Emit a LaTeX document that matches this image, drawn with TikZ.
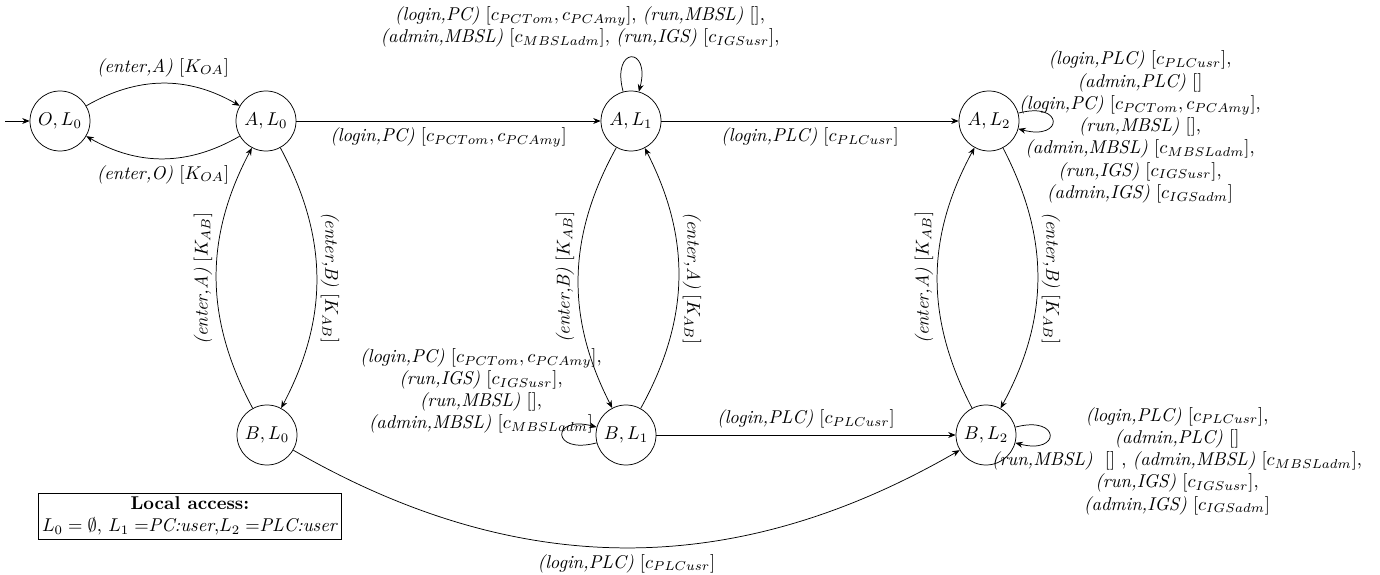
\documentclass[tikz,border=0pt]{standalone}
\usetikzlibrary{arrows.meta}
\begin{document}
\begin{tikzpicture}[x=0.54pt,y=0.54pt,
  >={Stealth[length=4pt,width=3.2pt]},
  st/.style={circle,draw,minimum size=32.4pt,inner sep=0pt},
  vlab/.style={anchor=south,inner sep=2pt},
  lbl/.style={align=center,inner sep=0pt},
  every loop/.style={}]
\useasboundingbox (0,0) rectangle (1380,574);
% states
\node[st] (O0) at (60,453) {$O,L_0$};
\node[st] (A0) at (266,453) {$A,L_0$};
\node[st] (A1) at (631,453) {$A,L_1$};
\node[st] (A2) at (989,453) {$A,L_2$};
\node[st] (B0) at (267,139) {$B,L_0$};
\node[st] (B1) at (626,139) {$B,L_1$};
\node[st] (B2) at (986,139) {$B,L_2$};
\coordinate (init) at (5,453);
% edges
\draw[->] (init) -- (O0);
\draw[->] (O0) to[bend left=30] node[above]{\textit{(enter,A)} $[K_{OA}]$} (A0);
\draw[->] (A0) to[bend left=30] node[below]{\textit{(enter,O)} $[K_{OA}]$} (O0);
\draw[->] (A0) -- node[below]{\textit{(login,PC)} $[c_{PCTom}, c_{PCAmy}]$} (A1);
\draw[->] (A1) -- node[below]{\textit{(login,PLC)} $[c_{PLCusr}]$} (A2);
\draw[->] (B1) -- node[above]{\textit{(login,PLC)} $[c_{PLCusr}]$} (B2);
\draw[->] (B0) to[bend right=30] node[below]{\textit{(login,PLC)} $[c_{PLCusr}]$} (B2);
% vertical pairs
\draw[->] (A0) to[bend left=28] node[vlab,rotate=-90]{\textit{(enter,B)} $[K_{AB}]$} (B0);
\draw[->] (B0) to[bend left=28] node[vlab,rotate=90]{\textit{(enter,A)} $[K_{AB}]$} (A0);
\draw[->] (A1) to[bend right=28] node[vlab,rotate=90]{\textit{(enter,B)} $[K_{AB}]$} (B1);
\draw[->] (B1) to[bend right=28] node[vlab,rotate=-90]{\textit{(enter,A)} $[K_{AB}]$} (A1);
\draw[->] (B2) to[bend left=28] node[vlab,rotate=90]{\textit{(enter,A)} $[K_{AB}]$} (A2);
\draw[->] (A2) to[bend left=28] node[vlab,rotate=-90]{\textit{(enter,B)} $[K_{AB}]$} (B2);
% loops
\draw[->] (A1) to[loop above,min distance=9mm] (A1);
\draw[->] (A2) to[loop right,min distance=9mm] (A2);
\draw[->] (B1) to[loop left,min distance=9mm] (B1);
\draw[->] (B2) to[loop right,min distance=9mm] (B2);
% loop labels
\node[lbl] (lA1) at (580,547) {\textit{(login,PC)} $[c_{PCTom}, c_{PCAmy}]$, \textit{(run,MBSL)} $[]$,\\
  \textit{(admin,MBSL)} $[c_{MBSLadm}]$, \textit{(run,IGS)} $[c_{IGSusr}]$,};
\node[lbl] (lA2) at (1140,447) {\textit{(login,PLC)} $[c_{PLCusr}]$,\\
  \textit{(admin,PLC)} $[]$\\
  \textit{(login,PC)} $[c_{PCTom}, c_{PCAmy}]$,\\
  \textit{(run,MBSL)} $[]$,\\
  \textit{(admin,MBSL)} $[c_{MBSLadm}]$,\\
  \textit{(run,IGS)} $[c_{IGSusr}]$,\\
  \textit{(admin,IGS)} $[c_{IGSadm}]$};
\node[lbl] (lB1) at (481,183) {\textit{(login,PC)} $[c_{PCTom}, c_{PCAmy}]$,\\
  \textit{(run,IGS)} $[c_{IGSusr}]$,\\
  \textit{(run,MBSL)} $[]$,\\
  \textit{(admin,MBSL)} $[c_{MBSLadm}]$};
\node[lbl] (lB2) at (1177,113) {\textit{(login,PLC)} $[c_{PLCusr}]$,\\
  \textit{(admin,PLC)} $[]$\\
  \textit{(run,MBSL)}~~$[]$~, \textit{(admin,MBSL)} $[c_{MBSLadm}]$,\\
  \textit{(run,IGS)} $[c_{IGSusr}]$,\\
  \textit{(admin,IGS)} $[c_{IGSadm}]$};
% legend
\node[draw,align=center,inner sep=2pt] (loc) at (190,58) {\textbf{Local access:}\\
  $L_0 = \emptyset$, $L_1 =$\textit{PC:user},$L_2 =$\textit{PLC:user}};
\end{tikzpicture}
\end{document}
